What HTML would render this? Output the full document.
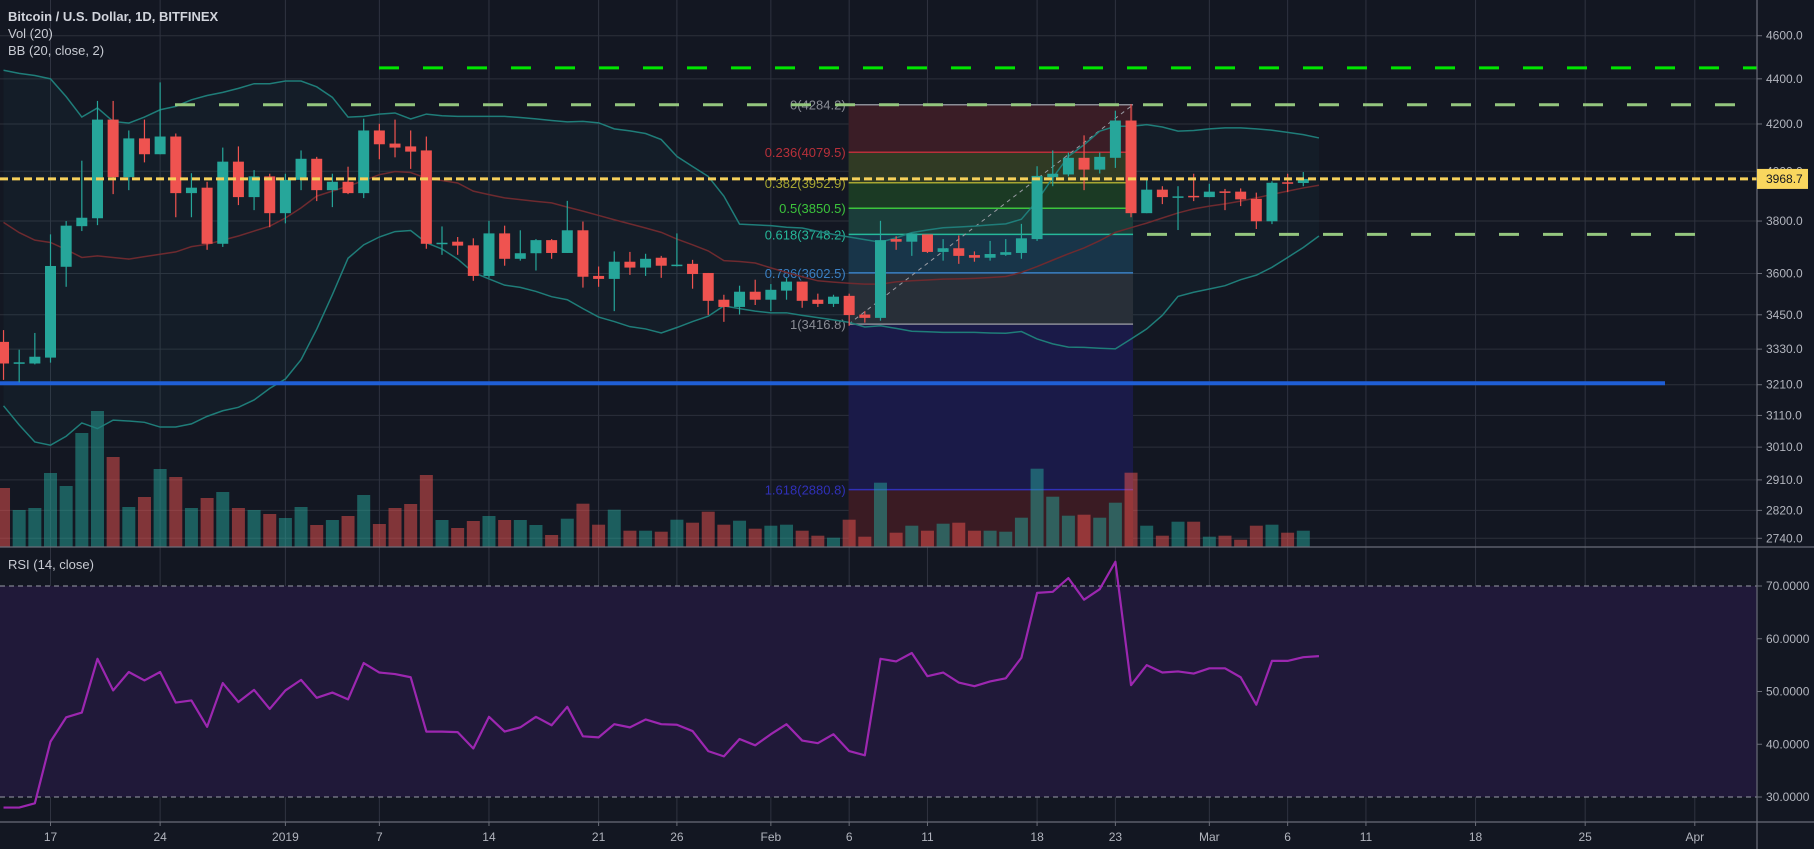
<!DOCTYPE html>
<html><head><meta charset="utf-8"><style>
html,body{margin:0;padding:0;background:#131722;}
svg{display:block;font-family:"Liberation Sans",sans-serif;}
</style></head><body>
<svg id="chart" width="1814" height="849" viewBox="0 0 1814 849" xmlns="http://www.w3.org/2000/svg">
<rect x="0" y="0" width="1814" height="849" fill="#131722"/>
<g id="grid"></g>
<g id="rsiBg"></g>
<g id="bbFill"></g>
<g id="fib"></g>
<g id="vol"></g>
<g id="bb"></g>
<g id="hlines"></g>
<g id="candles"></g>
<g id="rsi"></g>
<g id="axes"></g>
<text x="8" y="21" fill="#d1d4dc" font-size="13" font-weight="bold">Bitcoin / U.S. Dollar, 1D, BITFINEX</text>
<text x="8" y="38" fill="#c8cbd3" font-size="13">Vol (20)</text>
<text x="8" y="55" fill="#c8cbd3" font-size="13">BB (20, close, 2)</text>
<text x="8" y="569" fill="#c8cbd3" font-size="13">RSI (14, close)</text>
</svg>
<script>
const startDay = -3;
const opens  = [3355,3282,3281,3301,3625,3780,3811,4219,3976,4138,4071,4146,3911,3933,3712,4040,3895,3979,3831,3965,4052,3923,3957,3911,4172,4116,4104,4087,3712,3720,3706,3591,3752,3655,3676,3726,3677,3764,3591,3580,3644,3622,3659,3630,3636,3602,3504,3478,3533,3504,3537,3570,3504,3489,3518,3451,3439,3730,3720,3748,3681,3695,3669,3659,3670,3677,3730,3976,3987,4056,4007,4056,4215,3831,3925,3896,3900,3895,3918,3917,3888,3799,3955,3952];
const highs  = [3396,3328,3386,3748,3800,4044,4301,4301,4172,4219,4384,4159,3992,3957,4099,4104,4005,3990,3990,4087,4060,3990,4019,4223,4201,4219,4172,4146,3779,3738,3733,3801,3782,3764,3730,3730,3880,3798,3626,3683,3681,3674,3666,3752,3651,3602,3522,3555,3577,3561,3584,3570,3526,3522,3526,3463,3801,3741,3752,3748,3730,3744,3683,3723,3730,3789,4021,4087,4078,4151,4078,4258,4287,3971,3939,3939,3990,3949,3928,3930,3913,3959,3990,3997];
const lows   = [3226,3218,3278,3284,3551,3761,3784,3907,3923,4037,4071,3815,3815,3689,3700,3863,3843,3776,3791,3923,3879,3855,3907,3891,4050,4058,4010,3693,3670,3670,3573,3584,3629,3648,3611,3655,3677,3548,3551,3463,3595,3591,3584,3626,3544,3449,3425,3451,3485,3463,3504,3475,3478,3478,3411,3422,3429,3689,3666,3677,3648,3636,3644,3648,3666,3655,3723,3939,3979,3923,3991,4014,3815,3831,3867,3765,3879,3895,3843,3859,3769,3788,3915,3939];
const closes = [3281,3285,3304,3628,3782,3813,4219,3976,4138,4071,4146,3911,3933,3712,4040,3895,3979,3831,3965,4052,3923,3957,3911,4172,4113,4099,4082,3712,3716,3705,3591,3752,3655,3676,3726,3677,3764,3588,3580,3644,3622,3655,3629,3633,3598,3500,3478,3533,3504,3540,3570,3500,3489,3515,3449,3439,3726,3720,3752,3681,3695,3666,3659,3673,3680,3733,3981,3990,4056,4007,4060,4215,3831,3925,3895,3898,3896,3917,3915,3886,3799,3953,3951,3968.7];
const volumes = [5900,3700,3900,7400,6100,11400,13600,9000,4000,5000,7800,7000,3900,4900,5500,3900,3700,3300,2900,4000,2200,2700,3100,5200,2300,3900,4300,7200,2700,1900,2600,3100,2700,2700,2200,1200,2830,4330,2230,3730,1630,1630,1530,2730,2430,3530,2230,2630,1830,2130,2230,1630,1130,930,2730,1030,6430,1430,2130,1630,2330,2430,1630,1630,1530,2930,7830,5030,3130,3230,2930,4430,7430,2130,1130,2530,2530,1030,1130,730,2130,2230,1430,1630];
const bbUpper = [4439,4425,4415,4400,4320,4230,4270,4211,4204,4230,4262,4277,4306,4325,4339,4357,4378,4378,4390,4390,4364,4317,4230,4233,4243,4248,4222,4243,4236,4233,4233,4233,4233,4228,4222,4215,4209,4211,4205,4179,4170,4159,4133,4062,4020,3979,3899,3788,3785,3782,3776,3773,3760,3748,3738,3728,3718,3735,3755,3765,3774,3777,3780,3785,3789,3807,3880,3973,4062,4111,4169,4190,4190,4197,4187,4169,4172,4179,4183,4183,4179,4173,4164,4154,4140];
const bbMid = [3795,3755,3726,3717,3690,3660,3666,3660,3654,3663,3672,3681,3701,3710,3726,3742,3761,3780,3812,3852,3899,3919,3939,3962,3986,3999,3995,3972,3962,3952,3919,3905,3892,3885,3878,3872,3855,3839,3822,3805,3789,3773,3756,3730,3708,3685,3648,3645,3639,3621,3604,3588,3573,3568,3564,3561,3561,3569,3573,3576,3579,3580,3582,3585,3589,3604,3626,3650,3674,3696,3724,3756,3774,3792,3812,3832,3848,3859,3868,3879,3892,3906,3919,3932,3943];
const bbLower = [3141,3080,3026,3016,3044,3086,3068,3095,3092,3088,3073,3073,3083,3107,3125,3136,3160,3198,3229,3294,3399,3522,3657,3708,3738,3759,3763,3716,3692,3654,3604,3580,3557,3549,3534,3515,3504,3472,3442,3426,3408,3400,3386,3405,3426,3445,3482,3472,3463,3457,3457,3448,3440,3432,3423,3407,3411,3402,3392,3390,3388,3388,3388,3386,3385,3391,3365,3348,3337,3336,3333,3331,3365,3400,3448,3516,3531,3543,3555,3577,3594,3623,3660,3698,3742];
const rsiValues = [28.0,28.0,28.8,40.5,45.1,46.0,56.2,50.2,53.7,52.1,53.7,47.9,48.3,43.3,51.6,48.0,50.3,46.7,50.2,52.2,48.8,49.8,48.5,55.4,53.6,53.3,52.7,42.4,42.4,42.3,39.2,45.2,42.4,43.2,45.2,43.6,47.1,41.5,41.3,43.8,43.2,44.7,43.8,43.7,42.5,38.7,37.7,41.0,39.8,41.9,43.8,40.7,40.2,41.9,38.7,37.9,56.2,55.7,57.3,52.9,53.6,51.7,51.0,51.9,52.5,56.4,68.7,68.9,71.5,67.4,69.4,74.6,51.2,55.0,53.6,53.8,53.4,54.4,54.4,52.7,47.5,55.8,55.8,56.5,56.7];
const priceTicks = [4600,4400,4200,4000,3800,3600,3450,3330,3210,3110,3010,2910,2820,2740];
const rsiTicks = [70,60,50,40,30];
const timeTickDays = [0,7,15,21,28,35,40,46,51,56,63,68,74,79,84,91,98,105];
const timeTickLabels = ["17","24","2019","7","14","21","26","Feb","6","11","18","23","Mar","6","11","18","25","Apr"];
const fibLevels = [0,0.236,0.382,0.5,0.618,0.786,1,1.618];
const fibPrices = [4284.2,4079.5,3952.9,3850.5,3748.2,3602.5,3416.8,2880.8];
const fibStartDay = 51, fibEndDay = 69;
const lastPrice = 3968.7;
const brightGreenLevel = 4450, lightGreenHigh = 4284, lightGreenLow = 3748, blueLevel = 3215;

const NS="http://www.w3.org/2000/svg";
const AXIS_X=1757, MAIN_BOT=547, TIME_Y=822;
function X(d){return 50.5+15.66*d;}
function Y(p){return 171.3-970*Math.log(p/4000);}
function RY(r){return 586+(70-r)*(211/40);}
function VY(v){return MAIN_BOT-v/100;}
function mk(tag,attrs,parent){const e=document.createElementNS(NS,tag);for(const k in attrs)e.setAttribute(k,attrs[k]);parent.appendChild(e);return e;}
const G=id=>document.getElementById(id);

// grid
const grid=G('grid');
priceTicks.forEach(p=>{const l=mk('line',{x1:0,x2:AXIS_X,y1:Y(p),y2:Y(p),stroke:'#2c303b','stroke-width':1},grid);

});
rsiTicks.slice(1,4).forEach(r=>{const l=mk('line',{x1:0,x2:AXIS_X,y1:RY(r),y2:RY(r),stroke:'#3a3356','stroke-width':1},grid);

});
// rsi band
const rb=mk('rect',{x:0,y:RY(70),width:AXIS_X,height:RY(30)-RY(70),fill:'#201939'},G('rsiBg'));


timeTickDays.forEach(d=>{const l=mk('line',{x1:X(d),x2:X(d),y1:0,y2:TIME_Y,stroke:'#2f3340','stroke-width':1},grid);

});
[70,30].forEach(r=>{const l=mk('line',{x1:0,x2:AXIS_X,y1:RY(r),y2:RY(r),stroke:'#9a9ca8','stroke-width':1,'stroke-dasharray':'5,4'},G('rsiBg'));

});

// BB fill
let up=bbUpper.map((v,i)=>X(startDay+i)+','+Y(v));
let lo=bbLower.map((v,i)=>X(startDay+i)+','+Y(v)).reverse();
const bf=mk('polygon',{points:up.concat(lo).join(' '),fill:'rgba(38,166,154,0.05)'},G('bbFill'));



// Fib
const fib=G('fib');
const fx1=X(fibStartDay)-0.5, fx2=X(fibEndDay)+2;
const fibFills=['#3a1d26','#303a24','#1b3a24','#1b3d3a','#183549','#282f38','#1a1a48','#3a1b23'];
const fibColors=['#8a8d96','#b8303a','#a6a632','#3cc43c','#26b89a','#3a80c4','#8a8d96','#3030b8'];
for(let i=0;i<fibPrices.length;i++){
  const yTop=Y(fibPrices[i]); const yBot=i<fibPrices.length-1?Y(fibPrices[i+1]):MAIN_BOT;
  const r=mk('rect',{x:fx1,y:yTop,width:fx2-fx1,height:yBot-yTop,fill:fibFills[i]},fib);
  
  
}
fibPrices.forEach((p,i)=>{
  const l=mk('line',{x1:fx1,x2:fx2,y1:Y(p),y2:Y(p),stroke:fibColors[i],'stroke-width':1.5},fib);
  
  
  const t=mk('text',{x:fx1-3,y:Y(p)+5,fill:fibColors[i],'font-size':13,'text-anchor':'end'},fib);
  t.textContent=fibLevels[i]+'('+p.toFixed(1)+')';
  
  
});
const fd=mk('line',{x1:fx1,y1:Y(fibPrices[6]),x2:fx2,y2:Y(fibPrices[0]),stroke:'#9a9ca4','stroke-width':1,'stroke-dasharray':'4,4'},fib);



// volume
volumes.forEach((v,i)=>{const d=startDay+i;const up=closes[i]>=opens[i];
  const r=mk('rect',{x:X(d)-6.5,y:VY(v),width:13,height:MAIN_BOT-VY(v),fill:up?'rgba(38,166,154,0.5)':'rgba(239,83,80,0.5)'},G('vol'));
  
  });

// BB lines
function pl(arr,color,name,w){const pts=arr.map((v,i)=>X(startDay+i)+','+Y(v)).join(' ');
  const p=mk('polyline',{points:pts,fill:'none',stroke:color,'stroke-width':w},G('bb'));
  
  }
pl(bbUpper,'#1f7d79','bb-upper',1.5);pl(bbLower,'#1f7d79','bb-lower',1.5);pl(bbMid,'#6e2a2f','bb-basis',1.5);

// horizontal lines
const hl=G('hlines');
function hline(p,x1,x2,color,w,dash,name){const l=mk('line',{x1:x1,x2:x2,y1:Y(p),y2:Y(p),stroke:color,'stroke-width':w},hl);
  if(dash)l.setAttribute('stroke-dasharray',dash);
  
  }
hline(brightGreenLevel,379,AXIS_X,'#00e600',3,'20,24','resistance-line-4450');
hline(lightGreenHigh,175,1736,'#94c67e',3,'20,24','resistance-line-4284');
hline(lightGreenLow,1147,1696,'#94c67e',3,'20,24','support-line-3748');
hline(blueLevel,0,1665,'#1f5fd6',4,null,'support-line-3215');

// candles
const cg=G('candles');
opens.forEach((o,i)=>{const d=startDay+i,c=closes[i],up=c>=o,col=up?'#26a69a':'#ef5350',x=X(d);
  const w=mk('line',{x1:x,x2:x,y1:Y(highs[i]),y2:Y(lows[i]),stroke:col,'stroke-width':1.2},cg);
  
  
  const yt=Y(Math.max(o,c)),yb=Y(Math.min(o,c));
  const b=mk('rect',{x:x-5.5,y:yt,width:11,height:Math.max(yb-yt,1.5),fill:col},cg);
  
  });
const lp=mk('line',{x1:0,x2:AXIS_X,y1:Y(lastPrice),y2:Y(lastPrice),stroke:'#f6d05a','stroke-width':3,'stroke-dasharray':'8,4'},cg);



// RSI
const rp=rsiValues.map((v,i)=>X(startDay+i)+','+RY(v)).join(' ');
const rl=mk('polyline',{points:rp,fill:'none',stroke:'#9c27b0','stroke-width':2.2,'stroke-linejoin':'round'},G('rsi'));



// axes
const ax=G('axes');
mk('rect',{x:AXIS_X+1,y:0,width:1814-AXIS_X,height:849,fill:'#131722'},ax);
mk('rect',{x:0,y:TIME_Y+1,width:AXIS_X,height:849-TIME_Y,fill:'#131722'},ax);
const a1=mk('line',{x1:AXIS_X,x2:AXIS_X,y1:0,y2:849,stroke:'#6a6d78','stroke-width':1.2},ax);


const a2=mk('line',{x1:0,x2:1814,y1:MAIN_BOT,y2:MAIN_BOT,stroke:'#6a6d78','stroke-width':1.2},ax);


const a3=mk('line',{x1:0,x2:1814,y1:TIME_Y,y2:TIME_Y,stroke:'#6a6d78','stroke-width':1.2},ax);


priceTicks.forEach(p=>{mk('line',{x1:AXIS_X,x2:AXIS_X+5,y1:Y(p),y2:Y(p),stroke:'#6a6d78'},ax);
  const t=mk('text',{x:AXIS_X+9,y:Y(p)+4,fill:'#b2b5be','font-size':12},ax);t.textContent=p.toFixed(1);
  
  });
rsiTicks.forEach(r=>{mk('line',{x1:AXIS_X,x2:AXIS_X+5,y1:RY(r),y2:RY(r),stroke:'#6a6d78'},ax);
  const t=mk('text',{x:AXIS_X+9,y:RY(r)+4,fill:'#b2b5be','font-size':12},ax);t.textContent=r.toFixed(4);
  
  });
timeTickDays.forEach((d,i)=>{mk('line',{x1:X(d),x2:X(d),y1:TIME_Y,y2:TIME_Y+4,stroke:'#6a6d78'},ax);
  const t=mk('text',{x:X(d),y:841,fill:'#b2b5be','font-size':12,'text-anchor':'middle'},ax);t.textContent=timeTickLabels[i];
  
  });
const lb=mk('rect',{x:AXIS_X,y:Y(lastPrice)-10,width:51,height:20,fill:'#f9d65e'},ax);


const lt=mk('text',{x:AXIS_X+9,y:Y(lastPrice)+4,fill:'#131722','font-size':12},ax);lt.textContent=lastPrice.toFixed(1);


</script>
</body></html>
